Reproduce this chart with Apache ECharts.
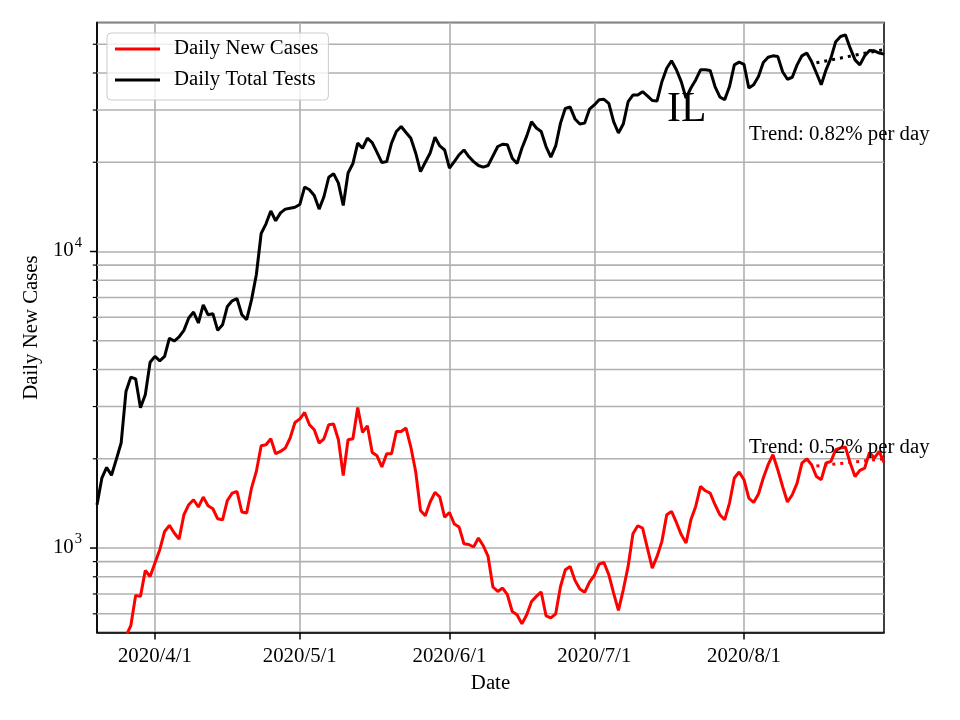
<!DOCTYPE html>
<html>
<head>
<meta charset="utf-8">
<script src="https://cdn.jsdelivr.net/npm/echarts@6/dist/echarts.min.js"></script>
<style>html,body{margin:0;padding:0;background:#fff}#chart{width:960px;height:720px}</style>
</head>
<body>
<div id="chart"></div>
<script>
// ---- data ----
const firstDay = [2020, 3, 20];   // 2020/3/20
const dayCount = 164;             // through 2020/8/30
const dates = [];
for (let i = 0; i < dayCount; i++) {
  const d = new Date(Date.UTC(firstDay[0], firstDay[1] - 1, firstDay[2] + i));
  dates.push(d.getUTCFullYear() + '/' + (d.getUTCMonth() + 1) + '/' + d.getUTCDate());
}

const dailyTotalTests = [
  1400,1720,1870,1760,1990,2260,3370,3770,3720,2970,
  3290,4230,4430,4280,4430,5100,4990,5150,5420,5970,
  6250,5740,6610,6120,6170,5420,5660,6530,6820,6930,
  6120,5890,6870,8350,11500,12400,13700,12700,13500,13900,
  14000,14100,14400,16500,16150,15450,13900,15300,17800,18300,
  17000,14300,18400,19800,23200,22300,24100,23300,21600,19950,
  20100,23200,25400,26400,25200,24100,21500,18600,20000,21500,
  24300,22700,22000,19100,20100,21200,22000,20900,20100,19500,
  19250,19500,21000,22600,23000,22900,20650,19800,22300,24500,
  27400,26100,25400,22600,20800,22700,27100,30400,30700,28000,
  26900,27100,30200,31200,32500,32600,31600,27400,25100,26900,
  32000,33700,33700,34600,33500,32300,32200,37400,41500,44000,
  41000,37400,32900,35600,37900,41000,41000,40800,36000,33200,
  32500,36000,42600,43500,42800,35600,36500,38900,43400,45200,
  45700,45500,40400,38100,38700,42600,45700,46700,43700,40000,
  36500,41000,44900,51000,53100,53800,48500,44300,42600,45700,
  47600,47500,46700,46300
];

const dailyNewCases = [
  160,200,250,290,330,400,505,547,692,687,
  840,802,890,987,1137,1192,1124,1072,1295,1400,
  1455,1375,1486,1389,1357,1255,1245,1447,1532,1551,
  1323,1312,1593,1813,2213,2230,2336,2080,2117,2174,
  2350,2652,2722,2866,2604,2505,2259,2336,2604,2619,
  2318,1757,2318,2336,2979,2454,2584,2101,2047,1876,
  2080,2080,2472,2472,2539,2191,1813,1339,1285,1430,
  1540,1486,1272,1318,1205,1177,1034,1028,1008,1081,
  1018,937,739,714,733,696,611,596,555,596,
  660,687,711,591,581,600,742,845,867,778,
  727,709,768,808,883,894,813,705,616,723,
  867,1117,1189,1168,1000,856,937,1053,1295,1329,
  1220,1110,1040,1245,1381,1613,1560,1532,1400,1295,
  1245,1418,1722,1804,1700,1474,1424,1521,1722,1910,
  2064,1837,1613,1430,1513,1656,1935,2000,1910,1743,
  1700,1935,1959,2145,2174,2191,1935,1743,1827,1861,
  2101,2011,2117,1944
];

const trendDates = ['2020/8/16', '2020/8/30'];
const testsTrend = [43300, 48000];
const casesTrend = [1890, 2000];

const yMin = 519, yMax = 59200;
const majorTickValues = [1000, 10000];
const minorTickValues = [600,700,800,900,2000,3000,4000,5000,6000,7000,8000,9000,20000,30000,40000,50000];

const titleText = 'IL';
const testsTrendText = 'Trend: 0.82% per day';
const casesTrendText = 'Trend: 0.52% per day';

// ---- chart ----
const FONT = '"Liberation Serif", "Times New Roman", Times, serif';
const FS = 20.8;
const LW = 3;
const isMonthStart = (idx, val) => /\/1$/.test(val);

const tickData = minorTickValues.map(v => [0, v, 0]).concat(majorTickValues.map(v => [0, v, 1]));

function renderTicks(params, api) {
  const cs = params.coordSys;
  const y = api.coord([0, api.value(1)])[1];
  const major = api.value(2) === 1;
  const children = [];
  if (!major) {
    children.push({ type: 'line', shape: { x1: cs.x, y1: y, x2: cs.x + cs.width, y2: y },
      style: { stroke: '#b0b0b0', lineWidth: 1.6 } });
  }
  children.push({ type: 'line', shape: { x1: cs.x - (major ? 7 : 4.2), y1: y, x2: cs.x, y2: y },
    style: { stroke: '#000', lineWidth: major ? 1.5 : 1.2 } });
  return { type: 'group', children };
}

const chart = echarts.init(document.getElementById('chart'), null, { renderer: 'canvas' });
chart.setOption({
  animation: false,
  backgroundColor: '#fff',
  textStyle: { fontFamily: FONT },
  grid: { left: 97, right: 76, top: 22.5, bottom: 87.5, show: true, borderColor: '#000', borderWidth: 1.5,
          containLabel: false, outerBoundsMode: 'none' },
  legend: {
    left: 107, top: 33, orient: 'vertical',
    data: ['Daily New Cases', 'Daily Total Tests'],
    icon: 'rect', itemWidth: 45, itemHeight: 3, itemGap: 9,
    padding: [5, 10, 9, 8],
    backgroundColor: 'rgba(255,255,255,0.8)', borderColor: '#cccccc', borderWidth: 1, borderRadius: 4,
    textStyle: { fontFamily: FONT, fontSize: FS, color: '#000', lineHeight: 22, padding: [0, 0, 0, 9] }
  },
  xAxis: {
    type: 'category', data: dates, boundaryGap: false,
    axisLine: { show: true, onZero: false, lineStyle: { color: '#000', width: 1.5 } },
    axisTick: { show: true, length: 7, interval: isMonthStart, lineStyle: { color: '#000', width: 1.5 } },
    axisLabel: { interval: isMonthStart, color: '#000', fontSize: FS, fontFamily: FONT, margin: 14 },
    splitLine: { show: true, interval: isMonthStart, lineStyle: { color: '#b0b0b0', width: 1.6 } },
    name: 'Date', nameLocation: 'middle', nameGap: 41,
    nameTextStyle: { color: '#000', fontSize: FS, fontFamily: FONT }
  },
  yAxis: {
    type: 'log', logBase: 10, min: yMin, max: yMax,
    axisLine: { show: true, lineStyle: { color: '#000', width: 1.5 } },
    axisTick: { show: false },
    axisLabel: {
      margin: 15, showMinLabel: false, showMaxLabel: false,
      formatter: v => {
        const e = Math.round(Math.log10(v));
        if (Math.abs(v - Math.pow(10, e)) > 1e-6 * v) return '';
        return '{a|10}{b|' + e + '}';
      },
      rich: {
        a: { fontSize: FS, fontFamily: FONT, color: '#000', lineHeight: 20, verticalAlign: 'bottom' },
        b: { fontSize: 14.5, fontFamily: FONT, color: '#000', lineHeight: 14, verticalAlign: 'bottom', padding: [0, 0, 11, 1] }
      }
    },
    splitLine: { show: true, lineStyle: { color: '#b0b0b0', width: 1.6 } },
    name: 'Daily New Cases', nameLocation: 'middle', nameGap: 54,
    nameTextStyle: { color: '#000', fontSize: FS, fontFamily: FONT }
  },
  series: [
    { type: 'custom', name: 'ticks', data: tickData, dimensions: ['x', 'y', 'major'],
      encode: { x: 0, y: 1 }, renderItem: renderTicks, silent: true, z: 1, clip: false },
    { name: 'Daily New Cases', type: 'line', data: dailyNewCases, symbol: 'none', showSymbol: false,
      lineStyle: { color: '#ff0000', width: LW }, itemStyle: { color: '#ff0000' }, z: 3, clip: true },
    { name: 'Daily Total Tests', type: 'line', data: dailyTotalTests, symbol: 'none', showSymbol: false,
      lineStyle: { color: '#000000', width: LW }, itemStyle: { color: '#000000' }, z: 3, clip: true },
    { name: 'Tests Trend', type: 'line', data: trendDates.map((d, k) => [d, testsTrend[k]]), symbol: 'none',
      lineStyle: { color: '#000000', width: LW, type: [3, 5], cap: 'butt' }, z: 3 },
    { name: 'Cases Trend', type: 'line', data: trendDates.map((d, k) => [d, casesTrend[k]]), symbol: 'none',
      lineStyle: { color: '#ff0000', width: LW, type: [3, 5], cap: 'butt' }, z: 3 }
  ],
  graphic: [
    { type: 'text', x: 667, y: 110.5, z: 10,
      style: { text: titleText, fontSize: 41.7, fontFamily: FONT, fill: '#000', verticalAlign: 'middle' } },
    { type: 'text', x: 749, y: 135, z: 10,
      style: { text: testsTrendText, fontSize: FS, fontFamily: FONT, fill: '#000', verticalAlign: 'middle' } },
    { type: 'text', x: 749, y: 447.5, z: 10,
      style: { text: casesTrendText, fontSize: FS, fontFamily: FONT, fill: '#000', verticalAlign: 'middle' } }
  ]
});
</script>
</body>
</html>
